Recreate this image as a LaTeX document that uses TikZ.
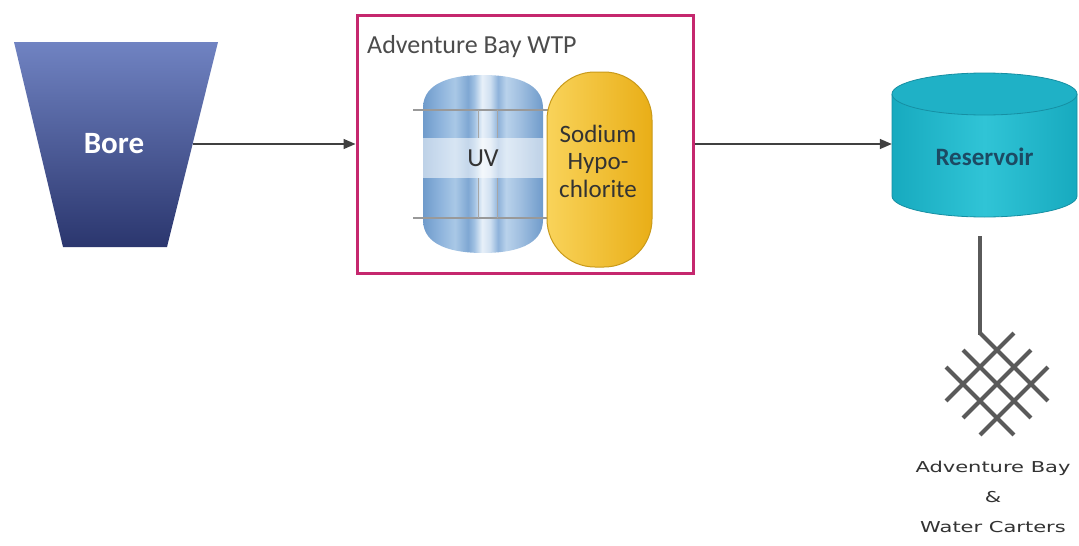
\documentclass[tikz,border=0pt]{standalone}
\usepackage{fontspec}
\setmainfont{Carlito}
\newfontfamily\widefont{DejaVu Sans}
\usetikzlibrary{shapes.geometric,arrows.meta}
\definecolor{wtpborder}{HTML}{C5286E}
\definecolor{arrowgray}{HTML}{404040}
\definecolor{latgray}{HTML}{5A5A5A}
\definecolor{boreTop}{HTML}{7083C2}
\definecolor{boreBot}{HTML}{2B366E}
\definecolor{resA}{HTML}{17AABF}
\definecolor{resB}{HTML}{30C4D6}
\definecolor{resTop}{HTML}{1FB1C6}
\definecolor{resLine}{HTML}{168FA3}
\definecolor{resText}{HTML}{1C4A63}
\definecolor{naA}{HTML}{F9D35A}
\definecolor{naB}{HTML}{E9AE17}
\definecolor{naLine}{HTML}{C99A1A}
\definecolor{uvA}{HTML}{6F9BCB}
\definecolor{uvB}{HTML}{8DB3DC}
\definecolor{uvC}{HTML}{A9C8E6}
\definecolor{uvD}{HTML}{7FA7D3}
\definecolor{uvE}{HTML}{9FC0E2}
\definecolor{uvF}{HTML}{E8F0F9}
\definecolor{uvG}{HTML}{CFE0F1}
\definecolor{uvH}{HTML}{8EB2DA}
\definecolor{uvI}{HTML}{B9D2EB}
\definecolor{uvJ}{HTML}{A0BFE0}
\pgfdeclarehorizontalshading{uvshade}{100bp}{
 color(0bp)=(uvA); color(25bp)=(uvA); color(32bp)=(uvB); color(38.3bp)=(uvC); color(43.75bp)=(uvD);
 color(46.25bp)=(uvE); color(49.6bp)=(uvF); color(53bp)=(uvG); color(56.25bp)=(uvH);
 color(59.6bp)=(uvI); color(65.4bp)=(uvJ); color(75bp)=(uvA); color(100bp)=(uvA)}
\begin{document}
\begin{tikzpicture}[x=1pt,y=-1pt,
  flow/.style={draw=arrowgray,line width=1.4pt,-{Triangle[length=12pt,width=10pt]}},
  lat/.style={draw=latgray,line width=4pt},
  ]
\useasboundingbox (0,0) rectangle (1079,546);
\fill[white] (0,0) rectangle (1079,546);
% Bore
\shade[top color=boreTop, bottom color=boreBot] (14,42) -- (218,42) -- (167,247) -- (63,247) -- cycle;
\node[inner sep=0pt, text=white, font=\fontsize{31}{33}\selectfont\bfseries] (bore) at (114,144) {Bore};
\coordinate (boreR) at (193,144);
% WTP box
\node[draw=wtpborder, line width=3pt, minimum width=336pt, minimum height=258pt, inner sep=0pt] (wtp) at (525,144) {};
\node[anchor=base west, font=\fontsize{26}{28}\selectfont, text=black!70, inner sep=0pt] (wtptitle) at (367,53) {Adventure Bay WTP};
% UV barrel
\def\barrel{(423,108) -- (423,220) .. controls (423,246) and (453,253) .. (483,253)
  .. controls (513,253) and (543,246) .. (543,220) -- (543,108)
  .. controls (543,82) and (513,75) .. (483,75) .. controls (453,75) and (423,82) .. (423,108) -- cycle}
\path[shading=uvshade] \barrel;
\begin{scope}
\clip \barrel;
\fill[white,opacity=0.55] (420,138) rectangle (546,178);
\end{scope}
\draw[black!40,line width=1.2pt] (413,110) -- (548,110);
\draw[black!40,line width=1.2pt] (413,218) -- (548,218);
\draw[black!35,line width=0.8pt] (478,110) -- (478,138) (478,178) -- (478,218);
\draw[black!35,line width=0.8pt] (497,110) -- (497,138) (497,178) -- (497,218);
\node[font=\fontsize{26}{28}\selectfont, text=black!80, inner sep=0pt] (uv) at (483,158) {UV};
% Sodium hypochlorite
\node[draw=naLine, line width=1pt, rounded corners=48pt, minimum width=105pt, minimum height=195pt,
  left color=naA, right color=naB, inner sep=0pt] (naocl) at (599.5,169.5) {};
\node[align=center, font=\fontsize{25}{27.5}\selectfont, text=black!80, inner sep=0pt] (naocltext) at (598,161) {Sodium\\Hypo-\\chlorite};
% Reservoir
\shade[left color=resA, right color=resA, middle color=resB]
  (892,94) -- (892,196) arc[start angle=180,end angle=360,x radius=92.5pt,y radius=21pt] -- (1077,94) -- cycle;
\draw[resLine, line width=0.8pt]
  (892,94) -- (892,196) arc[start angle=180,end angle=360,x radius=92.5pt,y radius=21pt] -- (1077,94);
\filldraw[fill=resTop, draw=resLine, line width=0.8pt] (984.5,94) ellipse[x radius=92.5pt,y radius=21pt];
\node[minimum width=185pt, minimum height=144pt, inner sep=0pt, font=\fontsize{25}{27}\selectfont\bfseries,
  text=resText] (res) at (984.5,157) {Reservoir};
% arrows
\draw[flow] (boreR) -- (wtp.west |- boreR);
\draw[flow] (wtp.east) -- (wtp.east -| res.west);
% distribution line and lattice
\coordinate (linetop) at (980,236);
\coordinate (lattop) at (980,335);
\draw[lat] (linetop) -- (lattop);
\begin{scope}[shift={(997,384)}]
  \foreach \v in {-24,0,24} {
    \draw[lat] ({(-48-\v)/sqrt(2)},{(-48+\v)/sqrt(2)}) -- ({(48-\v)/sqrt(2)},{(48+\v)/sqrt(2)});
    \draw[lat] ({(\v+48)/sqrt(2)},{(\v-48)/sqrt(2)}) -- ({(\v-48)/sqrt(2)},{(\v+48)/sqrt(2)});
  }
\end{scope}
\node[align=center, font=\widefont\fontsize{15}{30}\selectfont, text=black!80, inner sep=0pt] (carters) at (993,497)
  {\scalebox{1.4}[1]{Adventure Bay}\\\scalebox{1.4}[1]{\&}\\\scalebox{1.4}[1]{Water Carters}};
\end{tikzpicture}
\end{document}
